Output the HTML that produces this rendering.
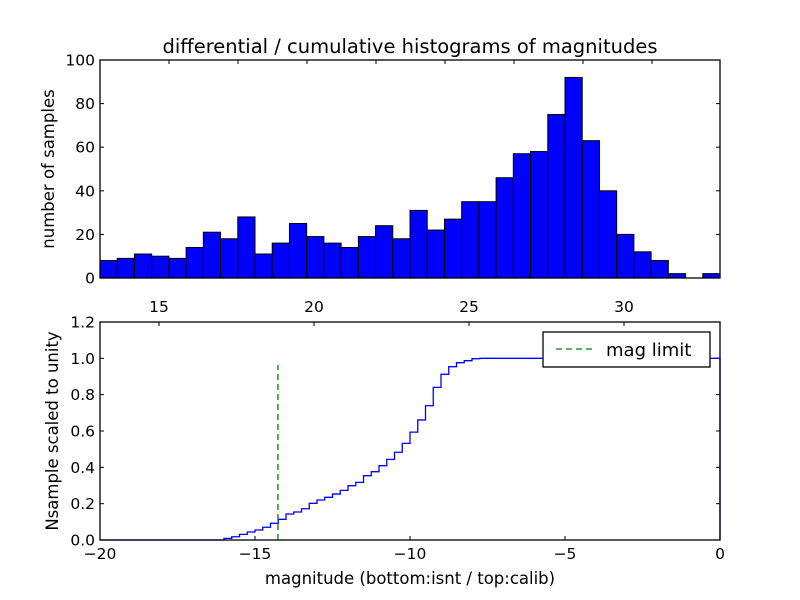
<!DOCTYPE html>
<html><head><meta charset="utf-8"><style>body{margin:0;background:#fff}svg{display:block;font-family:"DejaVu Sans","Liberation Sans",sans-serif}</style></head>
<body>
<svg id="c" width="800" height="600" viewBox="0 0 800 600">
<rect width="800" height="600" fill="#fff"/>
<g id="top"></g><g id="bot"></g>
</svg>
<script>
const histCounts=[8,9,11,10,9,14,21,18,28,11,16,25,19,16,14,19,24,18,31,22,27,35,35,46,57,58,75,92,63,40,20,12,8,2,0,2];
const histYTicks=[0,20,40,60,80,100];
const topTickLabels=[15,20,25,30];
const cumEdges=[-16,-15.75,-15.5,-15.25,-15,-14.75,-14.5,-14.25,-14,-13.75,-13.5,-13.25,-13,-12.75,-12.5,-12.25,-12,-11.75,-11.5,-11.25,-11,-10.75,-10.5,-10.25,-10,-9.75,-9.5,-9.25,-9,-8.75,-8.5,-8.25,-8,-7.75];
const cumValues=[0.009,0.018,0.031,0.044,0.055,0.070,0.092,0.114,0.143,0.154,0.172,0.202,0.220,0.235,0.253,0.273,0.299,0.317,0.354,0.376,0.409,0.444,0.483,0.532,0.594,0.661,0.739,0.840,0.912,0.954,0.976,0.987,0.998,1.0];
const bottomXTicks=[-20,-15,-10,-5,0];
const bottomYTicks=[0,0.2,0.4,0.6,0.8,1.0,1.2];
const magLimit=-14.26, magLimitTop=0.963;
const NS='http://www.w3.org/2000/svg';
function mk(p,t,a,txt){const e=document.createElementNS(NS,t);for(const k in a)e.setAttribute(k,a[k]);if(txt!==undefined)e.textContent=txt;p.appendChild(e);return e;}
const T=document.getElementById('top'),B=document.getElementById('bot');
const FS=15.5;
// top axes
const tx0=100,tx1=720,ty0=60,ty1=278;
const hxmin=13.097,hxmax=33.097;
const hx=v=>tx0+(v-hxmin)/(hxmax-hxmin)*(tx1-tx0);
const hy=v=>ty1-v/100*(ty1-ty0);
const bw=(hxmax-hxmin)/histCounts.length;
histCounts.forEach((c,i)=>{
 const x0=hx(hxmin+i*bw),x1=hx(hxmin+(i+1)*bw);
 const r=mk(T,'rect',{x:x0,y:hy(c),width:x1-x0,height:hy(0)-hy(c),fill:'#0000ff',stroke:'#000','stroke-width':1});
 
 
});
histYTicks.forEach(v=>{
 const y=hy(v);
 mk(T,'line',{x1:tx0,x2:tx0+4,y1:y,y2:y,stroke:'#000'});
 mk(T,'line',{x1:tx1,x2:tx1-4,y1:y,y2:y,stroke:'#000'});
 const t=mk(T,'text',{x:tx0-5,y:y+5.5,'text-anchor':'end','font-size':FS},v);
 
 
});
for(let x=169;x<tx1;x+=69){mk(T,'line',{x1:x,x2:x,y1:ty0,y2:ty0+4,stroke:'#000'});}
mk(T,'rect',{x:tx0,y:ty0,width:tx1-tx0,height:ty1-ty0,fill:'none',stroke:'#000','stroke-width':1.3,});
mk(T,'text',{x:410,y:53,'text-anchor':'middle','font-size':19.5,},'differential / cumulative histograms of magnitudes');
mk(T,'text',{x:0,y:0,transform:'translate(54,169) rotate(-90)','text-anchor':'middle','font-size':16.5,},'number of samples');
// bottom axes
const bx0=100,bx1=720,by0=322,by1=540;
const bx=v=>bx0+(v+20)/20*(bx1-bx0);
const by=v=>by1-v/1.2*(by1-by0);
bottomXTicks.forEach(v=>{
 const x=bx(v);
 mk(B,'line',{x1:x,x2:x,y1:by1,y2:by1-4,stroke:'#000'});
 const t=mk(B,'text',{x:x,y:by1+19,'text-anchor':'middle','font-size':FS},v<0?'\u2212'+(-v):v);
 
 
});
topTickLabels.forEach((v,i)=>{
 const x=159+i*155;
 mk(B,'line',{x1:x,x2:x,y1:by0,y2:by0+4,stroke:'#000'});
 const t=mk(B,'text',{x:x,y:312,'text-anchor':'middle','font-size':FS},v);
 
 
});
bottomYTicks.forEach(v=>{
 const y=by(v);
 mk(B,'line',{x1:bx0,x2:bx0+4,y1:y,y2:y,stroke:'#000'});
 mk(B,'line',{x1:bx1,x2:bx1-4,y1:y,y2:y,stroke:'#000'});
 const t=mk(B,'text',{x:bx0-5,y:y+5.5,'text-anchor':'end','font-size':FS},v.toFixed(1));
 
 
});
let d='M'+bx(-20)+','+by(0)+' L'+bx(cumEdges[0])+','+by(0);
let prev=0;
cumEdges.forEach((e,i)=>{d+=' L'+bx(e)+','+by(prev)+' L'+bx(e)+','+by(cumValues[i]);prev=cumValues[i];});
d+=' L'+bx(0)+','+by(prev)+' L'+bx(0)+','+by(0);
const cl=mk(B,'path',{d:d,fill:'none',stroke:'#0000ff','stroke-width':1.3});


const ml=mk(B,'line',{x1:bx(magLimit),x2:bx(magLimit),y1:by(0),y2:by(magLimitTop),stroke:'#008000','stroke-width':1.3,'stroke-dasharray':'6,4'});


mk(B,'rect',{x:bx0,y:by0,width:bx1-bx0,height:by1-by0,fill:'none',stroke:'#000','stroke-width':1.3,});
const lg=mk(B,'g',{});
mk(lg,'rect',{x:543,y:332,width:167,height:35,fill:'#fff',stroke:'#000','stroke-width':1.3});
mk(lg,'line',{x1:556,x2:596,y1:349,y2:349,stroke:'#008000','stroke-width':1.3,'stroke-dasharray':'6,4',});
mk(lg,'text',{x:606,y:356,'font-size':18,},'mag limit');
mk(B,'text',{x:410,y:584,'text-anchor':'middle','font-size':16.5,},'magnitude (bottom:isnt / top:calib)');
mk(B,'text',{x:0,y:0,transform:'translate(58,431) rotate(-90)','text-anchor':'middle','font-size':16.5,},'Nsample scaled to unity');
</script>
</body></html>
